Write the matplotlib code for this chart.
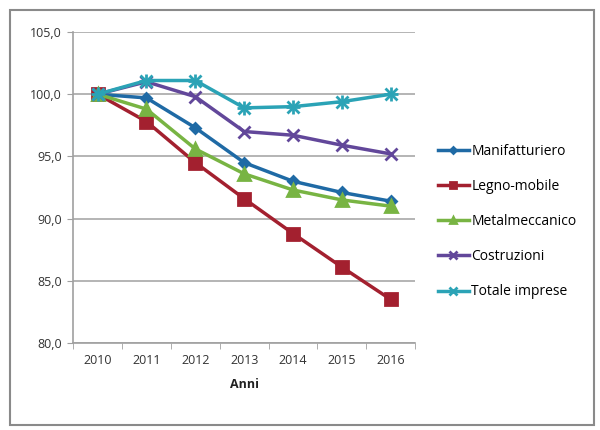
import numpy as np
import matplotlib
matplotlib.use("Agg")
import matplotlib.pyplot as plt
from matplotlib.patches import Rectangle

anni = ['2010', '2011', '2012', '2013', '2014', '2015', '2016']
manifatturiero = [100.0, 99.7, 97.3, 94.5, 93.0, 92.1, 91.4]
legno_mobile = [100.0, 97.8, 94.5, 91.6, 88.8, 86.1, 83.5]
metalmeccanico = [100.0, 98.8, 95.6, 93.6, 92.3, 91.5, 91.0]
costruzioni = [100.0, 101.0, 99.8, 97.0, 96.7, 95.9, 95.2]
totale_imprese = [100.0, 101.1, 101.1, 98.9, 99.0, 99.4, 100.0]
yticks = [80, 85, 90, 95, 100, 105]

plt.rcParams['font.family'] = ['Open Sans', 'DejaVu Sans']

fig = plt.figure(figsize=(6, 4.3), dpi=100)
ax = fig.add_axes([0.122, 0.2023, 0.570, 0.7233])

x = np.arange(len(anni))
series = [
    ('Manifatturiero', manifatturiero, '#1f6aa5', 'D', 5),
    ('Legno-mobile', legno_mobile, '#a3202f', 's', 8),
    ('Metalmeccanico', metalmeccanico, '#78b443', '^', 8),
    ('Costruzioni', costruzioni, '#62479a', 'x', 9),
    ('Totale imprese', totale_imprese, '#2ba3b6', 'x', 9),
]
for name, vals, col, mk, ms in series:
    ax.plot(x, vals, color=col, lw=2.5, marker=mk, ms=ms, mew=2,
            label=name)
# star marker for totale
ax.plot(x, totale_imprese, color='#2ba3b6', lw=0, marker='+', ms=10, mew=2)

ax.set_xlim(-0.5, len(anni) - 0.5)
ax.set_ylim(80, 105)
ax.set_yticks(yticks)
ax.set_yticklabels([('%.1f' % v).replace('.', ',') for v in yticks])
ax.set_xticks(x)
ax.set_xticklabels(anni)
ax.set_xticks(np.arange(-0.5, len(anni), 1), minor=True)
ax.tick_params(axis='x', which='major', length=0, pad=8)
ax.tick_params(axis='x', which='minor', length=4, color='#a0a0a0')
ax.tick_params(axis='y', length=4, color='#a0a0a0', pad=4)
ax.tick_params(labelsize=9, labelcolor='#333333')
ax.grid(axis='y', color='#a8a8a8', lw=1.2)
ax.set_axisbelow(True)
for s in ['top', 'right']:
    ax.spines[s].set_visible(False)
for s in ['left', 'bottom']:
    ax.spines[s].set_color('#a0a0a0')
    ax.spines[s].set_linewidth(1.2)
ax.set_xlabel('Anni', fontsize=9, fontweight='bold', color='#222222', labelpad=8)

ax.legend(loc='center left', bbox_to_anchor=(1.03, 0.39), frameon=False,
          fontsize=10, handlelength=2.2, handletextpad=0.2, labelspacing=1.45,
          markerscale=0.6)

fig.patches.append(Rectangle((0.017, 0.012), 0.973, 0.965, transform=fig.transFigure,
                             fill=False, ec='#8a8a8a', lw=1.5))

fig.savefig('out.png', dpi=100)
